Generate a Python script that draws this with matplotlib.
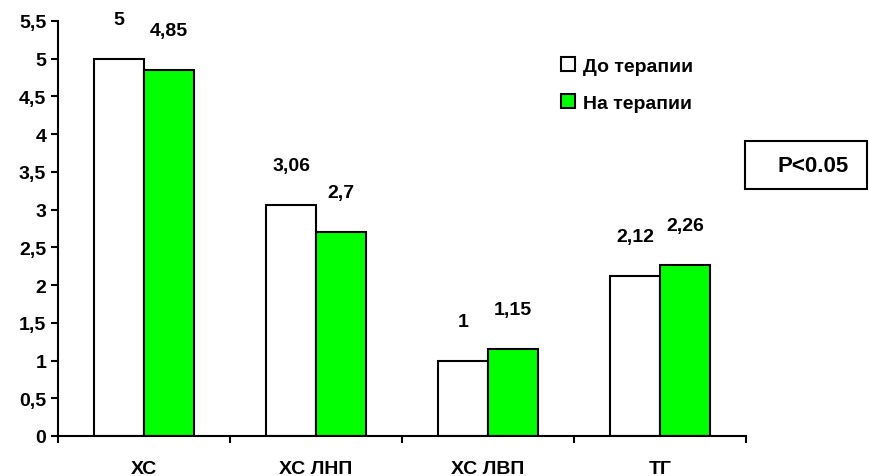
import numpy as np
import matplotlib.pyplot as plt
from matplotlib.patches import Rectangle

plt.rcParams['font.family'] = ['Liberation Sans', 'DejaVu Sans']
plt.rcParams['font.weight'] = 'bold'

categories = ['ХС', 'ХС ЛНП', 'ХС ЛВП', 'ТГ']
before = [5, 3.06, 1, 2.12]
after = [4.85, 2.7, 1.15, 2.26]
series_names = ['До терапии', 'На терапии']
yticks = np.arange(0, 5.51, 0.5)


def fmt(v):
    s = ('%g' % v).replace('.', ',')
    return s


fig = plt.figure(figsize=(8.69, 4.77), dpi=100)
ax = fig.add_axes([0.0667, 0.0839, 0.7918, 0.8701])

x = np.arange(len(categories))
w = 0.29
b1 = ax.bar(x - w / 2, before, w, color='white', edgecolor='black', linewidth=1.5,
            label=series_names[0])
b2 = ax.bar(x + w / 2, after, w, color='#00ff00', edgecolor='black', linewidth=1.5,
            label=series_names[1])

for bars, vals in ((b1, before), (b2, after)):
    for r, v in zip(bars, vals):
        ax.annotate(fmt(v), (r.get_x() + r.get_width() / 2, v),
                    xytext=(0, 31), textcoords='offset pixels',
                    ha='center', va='bottom', fontsize=14, fontweight='bold')

ax.set_xlim(-0.5, len(categories) - 0.5)
ax.set_ylim(0, 5.5)
ax.set_yticks(yticks)
ax.set_yticklabels([fmt(t) for t in yticks], fontsize=14, fontweight='bold')
ax.set_xticks(np.arange(len(categories) + 1) - 0.5)
ax.set_xticklabels([])
ax.set_xticks(x, minor=True)
ax.set_xticklabels(categories, minor=True, fontsize=14, fontweight='bold')
ax.tick_params(axis='x', which='minor', length=0, pad=17)
ax.tick_params(axis='both', which='major', direction='out', length=5, width=1.5)

for s in ('top', 'right'):
    ax.spines[s].set_visible(False)
for s in ('left', 'bottom'):
    ax.spines[s].set_linewidth(1.5)

ax.legend(loc='upper left', bbox_to_anchor=(0.705, 0.955), frameon=False,
          handlelength=0.72, handleheight=0.72, handletextpad=0.45,
          labelspacing=1.0, prop={'size': 14, 'weight': 'bold'})

# boxed significance note to the right of the plot
fig.patches.append(Rectangle((0.857, 0.602), 0.141, 0.100, transform=fig.transFigure,
                             facecolor='white', edgecolor='black', linewidth=1.5))
fig.text(0.9356, 0.651, 'P<0.05', ha='center', va='center', fontsize=16,
         fontweight='bold')

fig.savefig('out.png', dpi=100)
